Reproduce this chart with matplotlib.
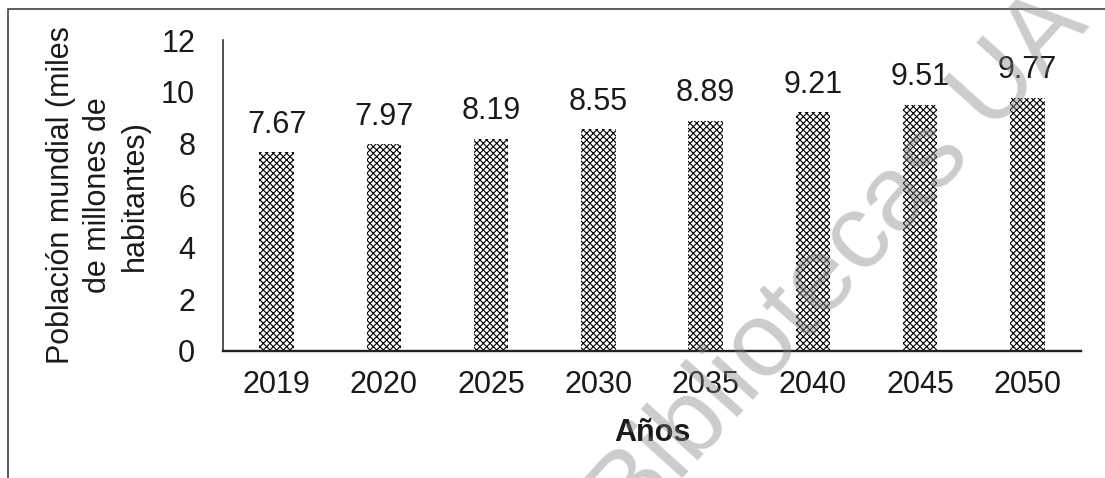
import matplotlib.pyplot as plt
from matplotlib.patches import Rectangle

years = ['2019', '2020', '2025', '2030', '2035', '2040', '2045', '2050']
population = [7.67, 7.97, 8.19, 8.55, 8.89, 9.21, 9.51, 9.77]
y_ticks = [0, 2, 4, 6, 8, 10, 12]

plt.rcParams['font.family'] = ['Liberation Sans', 'DejaVu Sans']
plt.rcParams['hatch.linewidth'] = 0.8
text_color = '#1a1a1a'

fig = plt.figure(figsize=(11.05, 4.78), dpi=100)
ax = fig.add_axes([223 / 1105, 1 - 351 / 478, (1081 - 223) / 1105, (351 - 40) / 478])

x = range(len(years))
bars = ax.bar(x, population, width=0.32, color='white', edgecolor='black',
              hatch='xxxxx', linewidth=0)
ax.bar_label(bars, labels=['{:.2f}'.format(v) for v in population],
             padding=9, fontsize=22, color=text_color)

ax.set_xlim(-0.5, len(years) - 0.5)
ax.set_ylim(0, 12)
ax.set_yticks(y_ticks)
ax.set_xticks(list(x))
ax.set_xticklabels(years)
ax.tick_params(axis='both', length=0, labelsize=22, labelcolor=text_color)
ax.tick_params(axis='x', pad=14)
ax.tick_params(axis='y', pad=20)

for side in ['top', 'right']:
    ax.spines[side].set_visible(False)
ax.spines['left'].set_linewidth(1.1)
ax.spines['left'].set_color('#222222')
ax.spines['bottom'].set_linewidth(1.7)
ax.spines['bottom'].set_color('#222222')

ax.set_ylabel('Población mundial (miles\nde millones de\nhabitantes)',
              fontsize=22, color=text_color, linespacing=1.3, va='center')
ax.yaxis.set_label_coords(-0.146, 0.5)
ax.set_xlabel('Años', fontsize=22, fontweight='bold', color=text_color, va='center')
ax.xaxis.set_label_coords(0.5, -0.264)

# outer border of the chart area
fig.patches.append(Rectangle((8 / 1105, -0.1), 1.2, 1.1 - 9 / 478, fill=False,
                             edgecolor='#333333', linewidth=1.1,
                             transform=fig.transFigure, figure=fig))

# library watermark
fig.text(840 / 1105, 1 - 262 / 478, 'Bibliotecas UA', fontsize=76,
         color='#808080', alpha=0.4, rotation=48, ha='center', va='center',
         rotation_mode='anchor')

fig.savefig('out.png', dpi=100)
